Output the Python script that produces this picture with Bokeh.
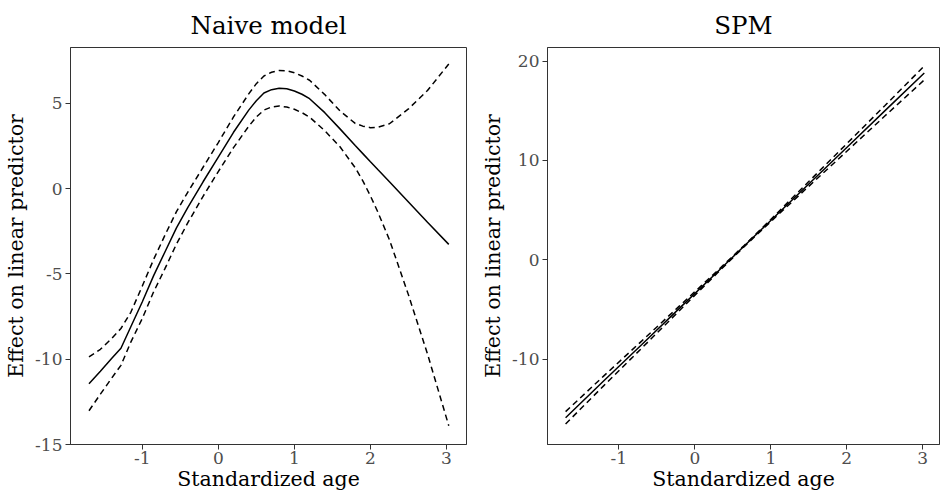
from bokeh.plotting import figure
from bokeh.layouts import row
from bokeh.models import Range1d, FixedTicker
from bokeh.embed import file_html
from bokeh.resources import INLINE

# ---- Naive model (left panel) ----
naive_x = [-1.70, -1.55, -1.40, -1.28, -1.15, -1.00, -0.85, -0.70, -0.55, -0.40, -0.20,
           0.00, 0.20, 0.40, 0.50, 0.60, 0.70, 0.80, 0.90, 1.00, 1.10, 1.20, 1.40,
           1.60, 1.80, 1.90, 2.00, 2.10, 2.25, 2.50, 2.75, 3.03]
naive_fit = [-11.44, -10.70, -9.95, -9.36, -8.10, -6.65, -5.10, -3.70, -2.30, -1.10, 0.40,
             1.85, 3.30, 4.60, 5.15, 5.60, 5.80, 5.88, 5.85, 5.72, 5.53, 5.27, 4.45,
             3.50, 2.52, 2.05, 1.57, 1.10, 0.40, -0.78, -1.97, -3.27]
naive_upper = [-9.86, -9.42, -8.78, -8.20, -7.25, -5.72, -4.15, -2.72, -1.35, -0.20, 1.25,
               2.70, 4.20, 5.55, 6.15, 6.60, 6.82, 6.92, 6.91, 6.79, 6.60, 6.35, 5.51,
               4.55, 3.82, 3.66, 3.57, 3.60, 3.80, 4.67, 5.75, 7.30]
naive_lower = [-13.02, -12.05, -11.10, -10.36, -9.00, -7.62, -6.05, -4.68, -3.25, -2.00, -0.45,
               1.00, 2.40, 3.65, 4.20, 4.60, 4.78, 4.84, 4.78, 4.65, 4.45, 4.19, 3.39,
               2.45, 1.22, 0.45, -0.43, -1.40, -3.00, -6.23, -9.69, -13.90]

# ---- SPM (right panel) ----
spm_x = [-1.70, -1.20, -0.70, -0.20, 0.30, 0.65, 1.00, 1.50, 2.00, 2.50, 3.02]
spm_fit = [-15.90, -12.20, -8.55, -4.87, -1.20, 1.38, 3.95, 7.63, 11.30, 14.98, 18.80]
spm_upper = [-15.28, -11.71, -8.19, -4.64, -1.09, 1.44, 4.06, 7.87, 11.68, 15.50, 19.50]
spm_lower = [-16.52, -12.69, -8.91, -5.10, -1.31, 1.32, 3.84, 7.39, 10.92, 14.46, 18.10]

x_ticks = [-1, 0, 1, 2, 3]
naive_y_ticks = [-15, -10, -5, 0, 5]
spm_y_ticks = [-10, 0, 10, 20]

FONT = "DejaVu Serif"
GRAY = "#333333"
TICKTXT = "#4D4D4D"


def style(p, title, xticks, yticks):
    p.title.text = title
    p.title.align = "center"
    p.title.text_font = FONT
    p.title.text_font_size = "24.5px"
    p.title.text_font_style = "normal"
    p.title.text_color = "black"
    p.title.standoff = 16
    p.xgrid.visible = False
    p.ygrid.visible = False
    p.outline_line_color = GRAY
    p.outline_line_width = 1
    p.outline_line_alpha = 1
    p.background_fill_color = "white"
    p.border_fill_color = "white"
    p.xaxis.ticker = FixedTicker(ticks=xticks)
    p.yaxis.ticker = FixedTicker(ticks=yticks)
    p.xaxis.major_label_overrides = {t: str(t) for t in xticks}
    p.yaxis.major_label_overrides = {t: str(t) for t in yticks}
    for ax in (p.xaxis[0], p.yaxis[0]):
        ax.axis_line_color = GRAY
        ax.major_tick_line_color = GRAY
        ax.minor_tick_line_color = None
        ax.major_tick_in = 0
        ax.major_tick_out = 5
        ax.major_label_text_font = FONT
        ax.major_label_text_font_size = "17px"
        ax.major_label_text_color = TICKTXT
        ax.axis_label_text_font = FONT
        ax.axis_label_text_font_size = "20.5px"
        ax.axis_label_text_font_style = "normal"
        ax.axis_label_text_color = "black"
    p.xaxis.axis_label = "Standardized age"
    p.yaxis.axis_label = "Effect on linear predictor"
    p.xaxis.major_label_standoff = 2
    p.xaxis.axis_label_standoff = 0
    p.yaxis.major_label_standoff = 3
    p.yaxis.axis_label_standoff = 4


p1 = figure(width=478, height=496, output_backend="svg", toolbar_location=None,
            x_range=Range1d(-1.943, 3.263), y_range=Range1d(-15.0, 8.27),
            min_border_left=70, min_border_right=12, min_border_top=47, min_border_bottom=52)
style(p1, "Naive model", x_ticks, naive_y_ticks)
p1.line(naive_x, naive_fit, line_color="black", line_width=1.5)
p1.line(naive_x, naive_upper, line_color="black", line_width=1.5, line_dash="6 4")
p1.line(naive_x, naive_lower, line_color="black", line_width=1.5, line_dash="6 4")

p2 = figure(width=462, height=496, output_backend="svg", toolbar_location=None,
            x_range=Range1d(-1.938, 3.22), y_range=Range1d(-18.59, 21.36),
            min_border_left=69, min_border_right=1, min_border_top=47, min_border_bottom=52)
style(p2, "SPM", x_ticks, spm_y_ticks)
p2.line(spm_x, spm_fit, line_color="black", line_width=1.5)
p2.line(spm_x, spm_upper, line_color="black", line_width=1.5, line_dash="6 4")
p2.line(spm_x, spm_lower, line_color="black", line_width=1.5, line_dash="6 4")

layout = row(p1, p2)
open("out.html", "w").write(file_html(layout, INLINE))
